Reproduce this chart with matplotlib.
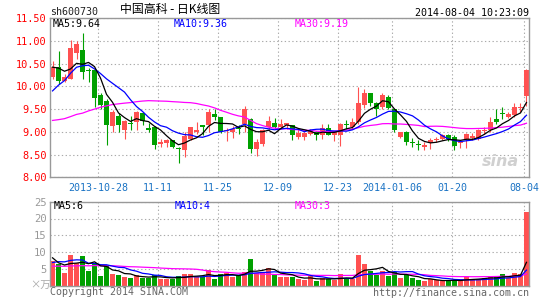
import numpy as np
import pandas as pd
import matplotlib
matplotlib.use("Agg")
import matplotlib.pyplot as plt

# daily candles, sh600730, 80 sessions
opens = [10.20, 10.42, 10.12, 10.17, 10.74, 10.80, 10.35, 10.35, 9.80, 9.68,
         9.12, 9.34, 9.05, 9.20, 9.21, 9.41, 9.09, 9.10, 8.73, 8.76,
         8.81, 8.65, 8.59, 8.85, 9.00, 9.14, 9.14, 9.39, 9.32, 9.02,
         8.99, 9.08, 9.17, 9.28, 8.62, 8.73, 9.10, 9.19, 9.10, 9.14,
         9.14, 8.88, 8.88, 8.95, 8.99, 8.92, 9.08, 8.92, 8.92, 9.17,
         9.10, 9.21, 9.59, 9.85, 9.63, 9.54, 9.77, 9.49, 8.88, 9.00,
         8.78, 8.73, 8.66, 8.76, 8.82, 8.84, 8.93, 8.88, 8.75, 8.84,
         8.86, 8.84, 9.02, 9.05, 9.28, 9.40, 9.32, 9.36, 9.52, 9.79]
closes = [10.42, 10.12, 10.20, 10.85, 10.93, 10.31, 10.33, 9.74, 9.59, 9.14,
          9.44, 9.16, 9.23, 9.17, 9.44, 9.23, 9.05, 8.71, 8.77, 8.81,
          8.66, 8.63, 8.90, 9.10, 9.05, 9.11, 9.44, 9.32, 9.00, 9.04,
          9.06, 9.06, 9.49, 8.62, 8.78, 9.05, 9.23, 9.11, 9.17, 9.19,
          8.92, 8.97, 8.97, 9.01, 8.93, 9.08, 8.92, 9.00, 9.18, 9.15,
          9.22, 9.63, 9.85, 9.63, 9.49, 9.81, 9.52, 9.05, 8.99, 8.77,
          8.76, 8.71, 8.71, 8.83, 8.84, 8.92, 8.85, 8.68, 8.77, 8.96,
          8.91, 9.05, 9.04, 9.21, 9.21, 9.38, 9.40, 9.54, 9.54, 10.36]
highs = [10.56, 10.78, 10.27, 11.02, 11.00, 11.17, 10.40, 10.38, 9.85, 9.72,
         9.47, 9.41, 9.26, 9.35, 9.46, 9.44, 9.20, 9.13, 8.84, 8.85,
         8.82, 8.66, 9.00, 9.11, 9.21, 9.15, 9.50, 9.50, 9.33, 9.08,
         9.13, 9.14, 9.56, 9.30, 8.84, 9.07, 9.34, 9.31, 9.27, 9.20,
         9.16, 9.06, 8.99, 9.06, 9.02, 9.17, 9.17, 9.02, 9.20, 9.25,
         9.31, 9.98, 9.94, 9.86, 9.65, 9.85, 9.81, 9.51, 9.00, 9.02,
         8.86, 8.81, 8.77, 8.86, 8.88, 8.96, 8.96, 8.93, 8.81, 8.97,
         8.98, 9.07, 9.10, 9.32, 9.49, 9.54, 9.43, 9.63, 9.63, 10.37]
lows = [10.15, 10.05, 10.09, 10.15, 10.60, 10.16, 10.10, 9.54, 9.50, 8.71,
        9.00, 8.99, 8.84, 9.05, 9.03, 9.15, 8.99, 8.62, 8.66, 8.67,
        8.64, 8.32, 8.44, 8.82, 8.95, 8.92, 8.99, 9.25, 8.97, 8.80,
        8.86, 8.95, 9.00, 8.54, 8.46, 8.68, 9.03, 9.06, 9.06, 9.06,
        8.81, 8.84, 8.83, 8.93, 8.81, 8.85, 8.92, 8.80, 8.68, 9.06,
        9.06, 9.17, 9.52, 9.57, 9.34, 9.50, 9.50, 9.00, 8.86, 8.71,
        8.66, 8.61, 8.61, 8.62, 8.77, 8.82, 8.80, 8.59, 8.64, 8.64,
        8.81, 8.82, 8.95, 9.00, 9.17, 9.28, 9.30, 9.32, 9.44, 9.57]
volumes = [7.4, 6.6, 3.7, 9.0, 6.9, 8.7, 4.4, 6.6, 2.9, 6.1,
           3.4, 3.1, 2.6, 2.3, 3.1, 2.4, 2.4, 3.1, 2.1, 2.1,
           1.9, 2.9, 3.4, 3.4, 2.6, 2.6, 4.6, 1.9, 3.6, 3.8,
           2.6, 3.1, 4.1, 7.9, 3.9, 3.8, 5.4, 3.1, 2.6, 2.6,
           2.6, 1.9, 1.6, 2.9, 1.3, 2.3, 2.1, 1.6, 3.4, 2.1,
           2.1, 9.0, 6.4, 4.3, 3.3, 4.3, 2.9, 4.1, 2.3, 3.1,
           2.3, 1.6, 1.3, 1.9, 1.6, 1.3, 1.6, 1.6, 1.6, 2.6,
           1.9, 2.1, 2.4, 2.6, 2.6, 3.4, 2.4, 3.8, 3.4, 21.8]

# sessions before the window (only feed the moving averages),
# backed out of where the MA lines start
prior_close = [9.60, 9.55, 9.50, 9.48, 9.48, 8.85, 8.55, 8.35, 8.25, 8.55,
               8.70, 8.78, 8.80, 8.85, 8.82, 8.78, 8.85, 8.90, 8.92, 8.94,
               8.85, 9.20, 9.25, 9.60, 9.98, 10.22, 10.55, 10.60, 10.31]
prior_vol = [6.0, 5.5, 5.0, 6.5, 7.0, 5.8, 4.5, 4.0, 5.2, 4.8,
             5.5, 6.2, 4.8, 4.5, 5.0, 4.6, 5.3, 5.6, 4.8, 4.4,
             4.0, 4.4, 4.6, 5.2, 9.3, 14.0, 7.0, 6.8, 6.3]

tick_idx = [8, 18, 28, 38, 48, 57, 67, 79]
tick_lbl = ["2013-10-28", "11-11", "11-25", "12-09", "12-23",
            "2014-01-06", "01-20", "08-04"]
price_ticks = [8.0, 8.5, 9.0, 9.5, 10.0, 10.5, 11.0, 11.5]
vol_ticks = [5, 10, 15, 20, 25]

RED = "#ff5151"
GREEN = "#00a000"
GRID = "#aaaaaa"
BORDER = "#999999"
MONO = "DejaVu Sans Mono"
W, H = 545, 300

n = len(closes)
x = np.arange(n)
o = np.array(opens)
c = np.array(closes)
up = c >= o
colors = np.where(up, RED, GREEN)


def ma(prior, vals, k):
    s = pd.Series(prior + vals).rolling(k).mean()
    return s.values[len(prior):]


ma5, ma10, ma30 = (ma(prior_close, closes, k) for k in (5, 10, 30))
vma5, vma10, vma30 = (ma(prior_vol, volumes, k) for k in (5, 10, 30))

fig = plt.figure(figsize=(W / 100, H / 100), dpi=100)
fig.patch.set_facecolor("white")

ax = fig.add_axes([50 / W, 1 - 177.3 / H, 479 / W, (177.3 - 18) / H])
axv = fig.add_axes([50 / W, 1 - 285.7 / H, 479 / W, (285.7 - 201.7) / H])
gx = [i - 0.42 for i in tick_idx]

for a in (ax, axv):
    a.set_xlim(-0.42, n - 1 + 0.42)
    for s in a.spines.values():
        s.set_color(BORDER)
        s.set_linewidth(1.0)
    a.set_xticks(gx)
    a.tick_params(length=0)
    a.grid(True, color=GRID, linestyle=(0, (1.2, 2.2)), linewidth=0.8)
    a.set_axisbelow(True)

# price panel
ax.vlines(x, lows, highs, colors=colors, linewidth=0.8)
body_h = np.maximum(np.abs(c - o), 0.022)
ax.bar(x, body_h, bottom=np.minimum(o, c), width=0.83, color=colors, linewidth=0)
ax.plot(x, ma30, color="#ff00ff", lw=0.9)
ax.plot(x, ma10, color="#0000ff", lw=0.9)
ax.plot(x, ma5, color="black", lw=0.9)
ax.set_ylim(8.0, 11.5)
ax.set_yticks(price_ticks)
ax.set_yticklabels(["%.2f" % t for t in price_ticks], color="#ff0000",
                   fontsize=7.4, family=MONO)
ax.tick_params(axis="y", pad=2.5)
ax.set_xticklabels(tick_lbl, color="#1a73c4", fontsize=7.2, family=MONO)
ax.tick_params(axis="x", pad=4)
ax.text(0.94, 0.1, "sina", transform=ax.transAxes, color="#d0d0d0",
        fontsize=11.5, fontweight="bold", style="italic", ha="center", va="center")

# volume panel
axv.bar(x, volumes, width=0.83, color=colors, linewidth=0)
axv.plot(x, vma30, color="#ff00ff", lw=0.9)
axv.plot(x, vma10, color="#0000ff", lw=0.9)
axv.plot(x, vma5, color="black", lw=0.9)
axv.set_ylim(0, 25)
axv.set_yticks(vol_ticks)
axv.set_yticklabels([str(t) for t in vol_ticks], color=BORDER,
                    fontsize=7.6, family=MONO)
axv.tick_params(axis="y", pad=2.5)
axv.set_xticklabels([])


def ftext(px, py, s, **kw):
    kw.setdefault("family", MONO)
    kw.setdefault("fontsize", 7.2)
    fig.text(px / W, 1 - py / H, s, va="center", **kw)


ftext(50, 12, "sh600730", color="#222222")
ftext(120, 10, "中国高科 - 日K线图", color="black", fontsize=8.6,
      family=["Noto Sans CJK SC", "DejaVu Sans"])
ftext(529, 12.5, "2014-08-04 10:23:09", color="black", ha="right")

ftext(53, 24, "MA5:%.2f" % ma5[-1], color="black")
ftext(174, 24, "MA10:%.2f" % ma10[-1], color="#0000ff")
ftext(295, 24, "MA30:%.2f" % ma30[-1], color="#ff00ff")

ftext(54, 206, "MA5:%d" % int(vma5[-1]), color="black")
ftext(175, 206, "MA10:%d" % int(vma10[-1]), color="#0000ff")
ftext(295, 206, "MA30:%d" % int(vma30[-1]), color="#ff00ff")

ftext(30, 285, "×万", color="#aaaaaa", fontsize=7.4,
      family=["Noto Sans CJK SC", "DejaVu Sans"])
ftext(50, 292, "Copyright 2014 SINA.COM", color="#666666")
ftext(529, 293, "http://finance.sina.com.cn", color="#666666", ha="right")

fig.savefig("out.png", dpi=100)
